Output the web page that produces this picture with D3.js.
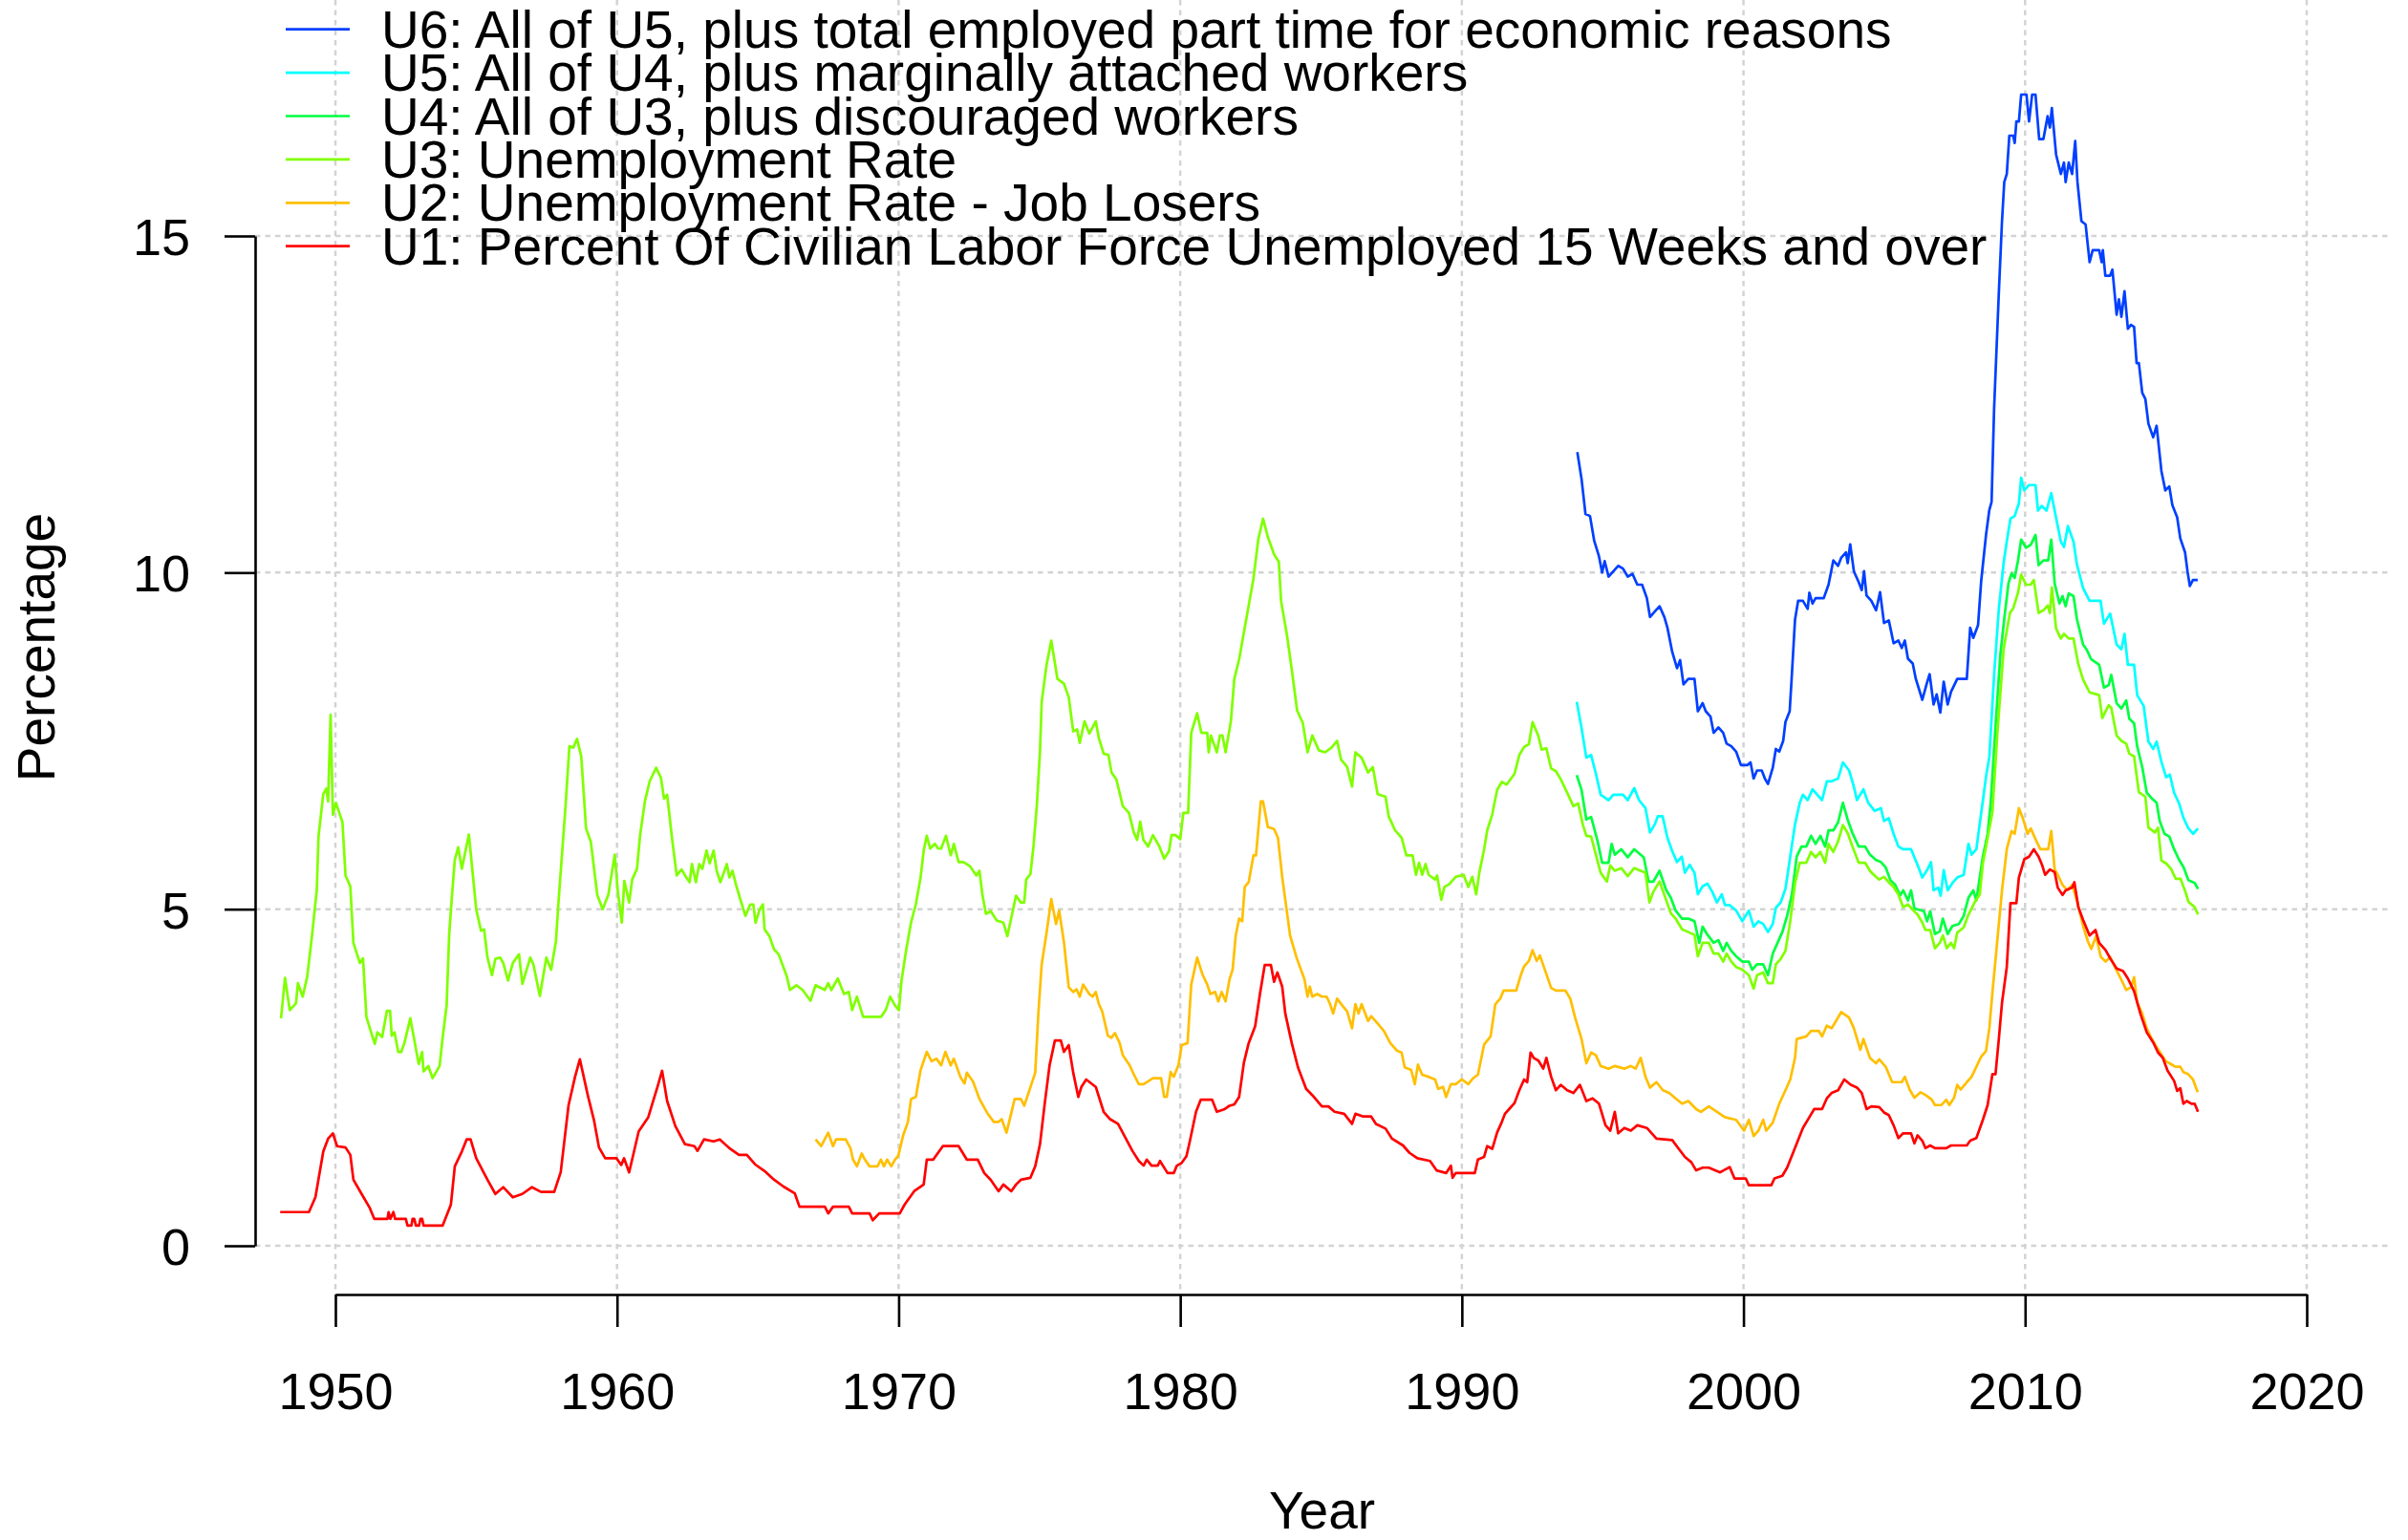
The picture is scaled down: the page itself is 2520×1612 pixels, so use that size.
<!DOCTYPE html>
<html>
<head>
<meta charset="utf-8">
<script src="https://cdn.jsdelivr.net/npm/d3@7"></script>
<style>
  body { margin: 0; background: #fff; }
  text { font-family: "Liberation Sans", Arial, sans-serif; fill: #000; }
</style>
</head>
<body>
<div id="chart"></div>
<script>
// x-axis ticks (years) and y-axis ticks (percent)
var yearTicks = [1950, 1960, 1970, 1980, 1990, 2000, 2010, 2020];
var pctTicks = [0, 5, 10, 15];

// legend labels, top to bottom
var labels = [
  "U6: All of U5, plus total employed part time for economic reasons",
  "U5: All of U4, plus marginally attached workers",
  "U4: All of U3, plus discouraged workers",
  "U3: Unemployment Rate",
  "U2: Unemployment Rate - Job Losers",
  "U1: Percent Of Civilian Labor Force Unemployed 15 Weeks and over"
];
var colors = ["#0040FF", "#00FFFF", "#00FF40", "#80FF00", "#FFBF00", "#FF0000"];

// series: [year, percent]
var u6 = [[1994.1,11.79],[1994.25,11.39],[1994.39,10.87],[1994.55,10.84],[1994.7,10.47],[1994.87,10.24],[1994.98,10.0],[1995.07,10.17],[1995.21,9.94],[1995.55,10.1],[1995.72,10.06],[1995.89,9.94],[1996.06,9.98],[1996.23,9.82],[1996.4,9.82],[1996.57,9.62],[1996.68,9.34],[1996.85,9.42],[1997.02,9.5],[1997.19,9.34],[1997.3,9.18],[1997.47,8.82],[1997.64,8.58],[1997.75,8.7],[1997.87,8.34],[1998.04,8.42],[1998.26,8.42],[1998.38,7.94],[1998.55,8.06],[1998.66,7.94],[1998.83,7.86],[1998.94,7.62],[1999.11,7.7],[1999.28,7.62],[1999.4,7.46],[1999.57,7.42],[1999.74,7.34],[1999.91,7.14],[2000.14,7.14],[2000.25,7.18],[2000.36,6.94],[2000.48,7.06],[2000.65,7.06],[2000.76,6.94],[2000.87,6.86],[2001.04,7.1],[2001.15,7.38],[2001.27,7.34],[2001.41,7.5],[2001.49,7.78],[2001.64,7.94],[2001.71,8.42],[2001.83,9.3],[2001.94,9.58],[2002.11,9.58],[2002.28,9.46],[2002.34,9.7],[2002.45,9.54],[2002.56,9.62],[2002.85,9.62],[2003.02,9.82],[2003.19,10.18],[2003.36,10.1],[2003.47,10.22],[2003.64,10.3],[2003.7,10.14],[2003.79,10.42],[2003.92,10.02],[2004.09,9.86],[2004.2,9.74],[2004.28,10.02],[2004.37,9.66],[2004.54,9.58],[2004.71,9.44],[2004.85,9.71],[2004.99,9.25],[2005.16,9.29],[2005.33,8.95],[2005.5,8.99],[2005.62,8.88],[2005.73,8.99],[2005.84,8.72],[2006.01,8.65],[2006.12,8.42],[2006.35,8.11],[2006.5,8.34],[2006.61,8.49],[2006.75,8.04],[2006.86,8.19],[2006.99,7.92],[2007.11,8.38],[2007.25,8.04],[2007.37,8.23],[2007.59,8.42],[2007.93,8.42],[2008.05,9.18],[2008.16,9.03],[2008.33,9.22],[2008.44,9.87],[2008.61,10.55],[2008.73,10.93],[2008.81,11.05],[2008.9,12.44],[2009.07,14.18],[2009.18,15.22],[2009.26,15.8],[2009.35,15.92],[2009.44,16.49],[2009.58,16.49],[2009.63,16.38],[2009.69,16.7],[2009.78,16.7],[2009.86,17.1],[2010.05,17.1],[2010.14,16.7],[2010.25,17.1],[2010.37,17.1],[2010.5,16.44],[2010.65,16.44],[2010.8,16.78],[2010.88,16.61],[2010.95,16.9],[2011.1,16.21],[2011.27,15.92],[2011.38,16.09],[2011.44,15.8],[2011.55,16.09],[2011.67,15.92],[2011.78,16.41],[2011.86,15.8],[2012.0,15.22],[2012.15,15.17],[2012.29,14.61],[2012.4,14.79],[2012.63,14.79],[2012.72,14.61],[2012.76,14.79],[2012.85,14.41],[2013.02,14.41],[2013.1,14.5],[2013.25,13.83],[2013.33,14.06],[2013.42,13.8],[2013.53,14.18],[2013.65,13.62],[2013.76,13.68],[2013.87,13.65],[2013.96,13.11],[2014.04,13.11],[2014.16,12.67],[2014.27,12.58],[2014.38,12.21],[2014.55,12.01],[2014.67,12.18],[2014.84,11.51],[2014.98,11.22],[2015.12,11.28],[2015.23,11.0],[2015.4,10.82],[2015.51,10.51],[2015.68,10.3],[2015.77,10.01],[2015.85,9.8],[2015.96,9.89],[2016.13,9.89]];

var u5 = [[1994.08,8.08],[1994.25,7.69],[1994.42,7.25],[1994.59,7.29],[1994.76,7.01],[1994.93,6.7],[1995.21,6.62],[1995.38,6.7],[1995.72,6.7],[1995.89,6.62],[1996.12,6.8],[1996.29,6.62],[1996.52,6.5],[1996.68,6.14],[1996.85,6.26],[1996.96,6.38],[1997.13,6.38],[1997.3,6.06],[1997.47,5.86],[1997.64,5.7],[1997.81,5.78],[1997.92,5.54],[1998.09,5.66],[1998.26,5.54],[1998.38,5.22],[1998.55,5.34],[1998.72,5.38],[1998.89,5.26],[1999.06,5.1],[1999.23,5.22],[1999.34,5.06],[1999.51,5.06],[1999.74,4.98],[1999.96,4.82],[2000.19,4.98],[2000.36,4.74],[2000.53,4.82],[2000.7,4.78],[2000.87,4.66],[2001.04,4.78],[2001.15,5.02],[2001.32,5.1],[2001.49,5.3],[2001.66,5.78],[2001.83,6.26],[2002.0,6.58],[2002.11,6.7],[2002.28,6.62],[2002.45,6.78],[2002.62,6.7],[2002.79,6.62],[2002.96,6.9],[2003.13,6.9],[2003.36,6.94],[2003.53,7.18],[2003.75,7.06],[2003.92,6.82],[2004.03,6.62],[2004.26,6.78],[2004.43,6.58],[2004.66,6.46],[2004.88,6.5],[2004.99,6.31],[2005.16,6.35],[2005.33,6.12],[2005.5,5.93],[2005.67,5.89],[2005.95,5.89],[2006.18,5.66],[2006.35,5.47],[2006.52,5.58],[2006.66,5.7],[2006.75,5.28],[2006.92,5.32],[2007.0,5.2],[2007.11,5.58],[2007.25,5.28],[2007.42,5.39],[2007.59,5.47],[2007.82,5.51],[2007.99,5.97],[2008.1,5.81],[2008.27,5.89],[2008.39,6.27],[2008.5,6.61],[2008.61,6.96],[2008.73,7.26],[2008.9,8.48],[2009.07,9.47],[2009.24,10.15],[2009.35,10.46],[2009.48,10.8],[2009.63,10.84],[2009.78,11.03],[2009.86,11.41],[2009.97,11.22],[2010.14,11.3],[2010.37,11.3],[2010.46,10.92],[2010.59,10.99],[2010.76,10.92],[2010.93,11.18],[2011.05,10.92],[2011.27,10.46],[2011.38,10.38],[2011.52,10.69],[2011.72,10.46],[2011.84,10.12],[2012.06,9.77],[2012.29,9.58],[2012.68,9.58],[2012.8,9.24],[2013.02,9.39],[2013.25,8.93],[2013.42,8.86],[2013.53,9.09],[2013.65,8.63],[2013.87,8.63],[2013.98,8.18],[2014.21,8.02],[2014.38,7.49],[2014.55,7.38],[2014.67,7.49],[2014.84,7.19],[2015.01,6.96],[2015.14,7.0],[2015.29,6.73],[2015.46,6.58],[2015.63,6.35],[2015.8,6.2],[2015.97,6.12],[2016.14,6.2]];

var u4 = [[1994.08,6.99],[1994.25,6.77],[1994.42,6.33],[1994.59,6.37],[1994.82,6.01],[1994.98,5.69],[1995.21,5.69],[1995.32,5.97],[1995.43,5.81],[1995.66,5.89],[1995.89,5.77],[1996.12,5.89],[1996.46,5.77],[1996.63,5.41],[1996.8,5.41],[1997.02,5.57],[1997.25,5.29],[1997.42,5.17],[1997.59,4.98],[1997.82,4.86],[1998.04,4.86],[1998.26,4.82],[1998.43,4.5],[1998.55,4.74],[1998.72,4.62],[1998.94,4.5],[1999.11,4.54],[1999.28,4.38],[1999.4,4.5],[1999.57,4.38],[1999.74,4.3],[1999.96,4.22],[2000.19,4.22],[2000.31,4.1],[2000.48,4.18],[2000.7,4.18],[2000.87,4.02],[2001.04,4.34],[2001.21,4.5],[2001.38,4.66],[2001.55,4.9],[2001.72,5.22],[2001.89,5.78],[2002.06,5.93],[2002.23,5.93],[2002.4,6.09],[2002.56,5.97],[2002.73,6.09],[2002.9,5.93],[2003.02,6.17],[2003.19,6.17],[2003.36,6.29],[2003.53,6.58],[2003.7,6.33],[2003.87,6.13],[2004.09,5.93],[2004.32,5.93],[2004.49,5.81],[2004.71,5.73],[2004.88,5.7],[2005.05,5.62],[2005.22,5.43],[2005.39,5.36],[2005.56,5.2],[2005.67,5.28],[2005.84,5.13],[2005.95,5.28],[2006.07,5.01],[2006.41,4.97],[2006.52,4.82],[2006.63,4.97],[2006.8,4.63],[2006.97,4.67],[2007.08,4.86],[2007.25,4.63],[2007.42,4.75],[2007.65,4.78],[2007.82,4.9],[2007.99,5.17],[2008.16,5.28],[2008.27,5.13],[2008.39,5.47],[2008.5,5.78],[2008.67,6.12],[2008.78,6.58],[2008.95,7.72],[2009.12,8.78],[2009.29,9.42],[2009.41,9.84],[2009.52,9.99],[2009.63,9.92],[2009.75,10.18],[2009.86,10.49],[2010.03,10.37],[2010.2,10.41],[2010.37,10.56],[2010.48,10.11],[2010.65,10.18],[2010.82,10.18],[2010.93,10.49],[2011.05,9.84],[2011.22,9.54],[2011.33,9.65],[2011.44,9.5],[2011.55,9.69],[2011.72,9.65],[2011.84,9.31],[2012.06,8.93],[2012.18,8.86],[2012.35,8.71],[2012.63,8.63],[2012.8,8.29],[2012.97,8.33],[2013.06,8.48],[2013.25,8.06],[2013.42,7.98],[2013.59,8.1],[2013.7,7.83],[2013.87,7.76],[2013.98,7.42],[2014.16,7.11],[2014.32,6.73],[2014.49,6.65],[2014.67,6.58],[2014.78,6.31],[2014.95,6.12],[2015.12,6.08],[2015.29,5.89],[2015.46,5.74],[2015.63,5.62],[2015.8,5.43],[2016.02,5.39],[2016.14,5.3]];

var u3 = [[1948.07,3.38],[1948.21,3.98],[1948.38,3.5],[1948.6,3.6],[1948.67,3.9],[1948.84,3.7],[1949.0,4.0],[1949.17,4.61],[1949.34,5.29],[1949.4,6.08],[1949.57,6.71],[1949.68,6.79],[1949.74,6.6],[1949.83,7.89],[1949.91,6.4],[1950.02,6.58],[1950.25,6.29],[1950.36,5.5],[1950.53,5.34],[1950.64,4.5],[1950.87,4.2],[1950.98,4.27],[1951.1,3.4],[1951.32,3.1],[1951.4,3.0],[1951.49,3.17],[1951.66,3.1],[1951.83,3.49],[1951.94,3.49],[1952.0,3.12],[1952.1,3.17],[1952.23,2.88],[1952.34,2.88],[1952.45,3.01],[1952.66,3.38],[1952.8,3.06],[1952.96,2.7],[1953.08,2.88],[1953.13,2.59],[1953.3,2.67],[1953.45,2.49],[1953.7,2.67],[1953.81,3.1],[1953.95,3.57],[1954.04,4.62],[1954.13,5.15],[1954.24,5.73],[1954.36,5.92],[1954.49,5.6],[1954.74,6.11],[1954.89,5.47],[1955.0,5.0],[1955.17,4.68],[1955.28,4.7],[1955.4,4.28],[1955.56,4.02],[1955.68,4.26],[1955.85,4.28],[1955.96,4.2],[1956.13,3.94],[1956.3,4.2],[1956.52,4.33],[1956.64,3.89],[1956.92,4.28],[1957.03,4.18],[1957.26,3.71],[1957.49,4.28],[1957.66,4.1],[1957.83,4.52],[1957.94,5.21],[1958.17,6.52],[1958.31,7.42],[1958.45,7.4],[1958.58,7.53],[1958.73,7.27],[1958.9,6.2],[1959.07,6.0],[1959.3,5.21],[1959.49,5.0],[1959.69,5.21],[1959.92,5.81],[1960.03,5.26],[1960.17,4.8],[1960.26,5.42],[1960.43,5.1],[1960.54,5.44],[1960.71,5.6],[1960.82,6.1],[1960.99,6.6],[1961.16,6.9],[1961.39,7.1],[1961.56,6.95],[1961.67,6.64],[1961.78,6.7],[1961.96,6.03],[1962.12,5.5],[1962.29,5.59],[1962.46,5.47],[1962.58,5.4],[1962.66,5.67],[1962.8,5.4],[1962.92,5.67],[1963.03,5.6],[1963.18,5.87],[1963.29,5.68],[1963.43,5.87],[1963.54,5.57],[1963.67,5.4],[1963.79,5.54],[1963.9,5.67],[1963.99,5.47],[1964.1,5.57],[1964.22,5.37],[1964.39,5.13],[1964.56,4.9],[1964.73,5.07],[1964.84,5.07],[1964.92,4.8],[1965.07,5.0],[1965.18,5.07],[1965.24,4.7],[1965.41,4.6],[1965.58,4.4],[1965.74,4.33],[1966.03,4.0],[1966.14,3.8],[1966.37,3.87],[1966.59,3.8],[1966.87,3.64],[1967.05,3.87],[1967.38,3.8],[1967.5,3.9],[1967.61,3.8],[1967.84,3.97],[1968.06,3.74],[1968.23,3.77],[1968.35,3.5],[1968.52,3.7],[1968.74,3.4],[1969.37,3.4],[1969.54,3.5],[1969.7,3.7],[1969.87,3.57],[1970.01,3.5],[1970.1,3.93],[1970.27,4.4],[1970.44,4.8],[1970.61,5.07],[1970.78,5.47],[1970.89,5.87],[1971.0,6.09],[1971.12,5.9],[1971.29,5.97],[1971.4,5.9],[1971.51,5.9],[1971.68,6.09],[1971.85,5.8],[1971.96,5.97],[1972.13,5.7],[1972.3,5.7],[1972.53,5.64],[1972.76,5.5],[1972.87,5.57],[1972.98,5.2],[1973.1,4.93],[1973.27,4.97],[1973.49,4.83],[1973.72,4.8],[1973.86,4.6],[1974.0,4.87],[1974.17,5.2],[1974.34,5.1],[1974.46,5.1],[1974.53,5.44],[1974.68,5.52],[1974.79,5.94],[1974.91,6.55],[1975.02,7.35],[1975.08,8.08],[1975.25,8.62],[1975.42,8.99],[1975.64,8.42],[1975.87,8.35],[1976.04,8.15],[1976.2,7.64],[1976.34,7.67],[1976.43,7.47],[1976.6,7.79],[1976.77,7.61],[1977.0,7.79],[1977.11,7.54],[1977.28,7.31],[1977.45,7.29],[1977.56,7.03],[1977.73,6.93],[1977.96,6.53],[1978.18,6.43],[1978.35,6.14],[1978.47,6.03],[1978.58,6.3],[1978.69,6.03],[1978.86,5.93],[1979.03,6.1],[1979.26,5.93],[1979.43,5.75],[1979.6,5.86],[1979.69,6.1],[1979.83,6.1],[1980.0,6.04],[1980.11,6.43],[1980.28,6.43],[1980.39,7.62],[1980.6,7.91],[1980.75,7.62],[1980.96,7.62],[1981.01,7.33],[1981.09,7.58],[1981.3,7.33],[1981.41,7.58],[1981.5,7.58],[1981.61,7.33],[1981.8,7.8],[1981.92,8.42],[1982.09,8.71],[1982.26,9.11],[1982.43,9.51],[1982.6,9.91],[1982.77,10.49],[1982.94,10.8],[1983.11,10.53],[1983.33,10.27],[1983.5,10.16],[1983.58,9.58],[1983.79,9.07],[1983.96,8.56],[1984.15,7.95],[1984.35,7.77],[1984.52,7.33],[1984.69,7.58],[1984.92,7.36],[1985.14,7.33],[1985.37,7.4],[1985.57,7.5],[1985.71,7.22],[1985.93,7.11],[1986.1,6.82],[1986.22,7.33],[1986.44,7.25],[1986.67,7.03],[1986.84,7.11],[1987.01,6.71],[1987.29,6.67],[1987.4,6.38],[1987.63,6.17],[1987.86,6.06],[1988.03,5.8],[1988.25,5.8],[1988.37,5.51],[1988.48,5.69],[1988.59,5.51],[1988.71,5.67],[1988.82,5.51],[1989.05,5.44],[1989.12,5.5],[1989.27,5.14],[1989.38,5.33],[1989.55,5.37],[1989.78,5.48],[1990.06,5.51],[1990.23,5.33],[1990.37,5.48],[1990.51,5.22],[1990.62,5.54],[1990.79,5.89],[1990.9,6.17],[1991.08,6.41],[1991.25,6.77],[1991.42,6.89],[1991.59,6.85],[1991.87,7.01],[1992.04,7.29],[1992.21,7.41],[1992.38,7.45],[1992.51,7.78],[1992.72,7.57],[1992.83,7.37],[1993.0,7.39],[1993.17,7.09],[1993.34,7.05],[1993.51,6.93],[1993.74,6.73],[1993.96,6.53],[1994.13,6.57],[1994.3,6.25],[1994.42,6.09],[1994.59,6.08],[1994.76,5.81],[1994.93,5.54],[1995.15,5.41],[1995.27,5.65],[1995.43,5.57],[1995.66,5.61],[1995.89,5.49],[1996.12,5.61],[1996.35,5.57],[1996.52,5.54],[1996.66,5.1],[1996.8,5.26],[1997.02,5.41],[1997.25,5.14],[1997.42,4.94],[1997.59,4.86],[1997.82,4.7],[1998.04,4.66],[1998.26,4.62],[1998.38,4.3],[1998.55,4.5],[1998.77,4.5],[1998.94,4.34],[1999.11,4.34],[1999.28,4.22],[1999.4,4.34],[1999.57,4.22],[1999.74,4.14],[1999.96,4.1],[2000.19,4.02],[2000.36,3.82],[2000.48,4.02],[2000.7,4.06],[2000.87,3.9],[2001.04,3.9],[2001.15,4.18],[2001.32,4.26],[2001.49,4.38],[2001.66,4.82],[2001.83,5.38],[2002.0,5.69],[2002.23,5.69],[2002.4,5.85],[2002.56,5.77],[2002.73,5.85],[2002.9,5.69],[2003.02,5.97],[2003.19,5.85],[2003.36,6.01],[2003.53,6.25],[2003.7,6.13],[2003.87,5.93],[2004.09,5.69],[2004.32,5.69],[2004.49,5.57],[2004.6,5.52],[2004.82,5.44],[2004.99,5.48],[2005.16,5.4],[2005.33,5.33],[2005.5,5.22],[2005.67,5.03],[2005.84,5.07],[2006.01,4.99],[2006.18,4.92],[2006.35,4.8],[2006.46,4.69],[2006.63,4.69],[2006.8,4.42],[2006.97,4.5],[2007.08,4.61],[2007.22,4.42],[2007.37,4.5],[2007.48,4.42],[2007.59,4.65],[2007.82,4.73],[2007.99,4.92],[2008.22,5.11],[2008.39,5.22],[2008.5,5.68],[2008.67,6.06],[2008.84,6.44],[2009.01,7.58],[2009.24,8.87],[2009.46,9.4],[2009.58,9.47],[2009.75,9.7],[2009.86,9.97],[2010.03,9.82],[2010.2,9.82],[2010.31,9.89],[2010.48,9.4],[2010.65,9.44],[2010.8,9.51],[2010.88,9.4],[2010.95,9.78],[2011.1,9.17],[2011.27,9.02],[2011.38,9.09],[2011.55,9.02],[2011.72,9.02],[2011.89,8.64],[2012.06,8.41],[2012.29,8.22],[2012.63,8.18],[2012.74,7.84],[2012.97,8.03],[2013.06,7.99],[2013.25,7.58],[2013.42,7.5],[2013.59,7.46],[2013.7,7.31],[2013.87,7.27],[2014.04,6.74],[2014.27,6.67],[2014.38,6.21],[2014.61,6.14],[2014.72,6.21],[2014.84,5.72],[2015.01,5.68],[2015.18,5.6],[2015.35,5.45],[2015.52,5.45],[2015.69,5.26],[2015.8,5.11],[2016.02,5.03],[2016.14,4.92]];

var u2 = [[1967.05,1.58],[1967.25,1.48],[1967.5,1.68],[1967.67,1.48],[1967.78,1.58],[1968.12,1.58],[1968.29,1.45],[1968.38,1.28],[1968.52,1.18],[1968.69,1.37],[1968.8,1.28],[1968.97,1.18],[1969.25,1.18],[1969.37,1.28],[1969.48,1.18],[1969.59,1.28],[1969.74,1.18],[1969.87,1.28],[1969.99,1.34],[1970.16,1.64],[1970.33,1.84],[1970.44,2.18],[1970.61,2.21],[1970.78,2.61],[1971.0,2.88],[1971.17,2.74],[1971.34,2.78],[1971.51,2.68],[1971.66,2.88],[1971.85,2.68],[1971.96,2.78],[1972.19,2.51],[1972.34,2.41],[1972.42,2.57],[1972.64,2.44],[1972.87,2.18],[1973.15,1.97],[1973.38,1.84],[1973.55,1.84],[1973.66,1.88],[1973.83,1.68],[1974.0,1.97],[1974.12,2.18],[1974.34,2.18],[1974.46,2.08],[1974.62,2.28],[1974.85,2.57],[1974.96,3.44],[1975.08,4.18],[1975.25,4.64],[1975.42,5.15],[1975.59,4.78],[1975.7,4.98],[1975.87,4.51],[1976.04,3.84],[1976.2,3.77],[1976.32,3.81],[1976.43,3.7],[1976.55,3.88],[1976.77,3.74],[1976.89,3.7],[1977.0,3.77],[1977.11,3.59],[1977.23,3.48],[1977.43,3.12],[1977.56,3.09],[1977.68,3.16],[1977.85,3.01],[1977.96,2.83],[1978.19,2.69],[1978.36,2.54],[1978.53,2.4],[1978.7,2.4],[1979.03,2.49],[1979.32,2.49],[1979.43,2.21],[1979.52,2.21],[1979.66,2.58],[1979.77,2.51],[1979.94,2.69],[1980.05,2.98],[1980.26,3.01],[1980.39,3.88],[1980.6,4.28],[1980.79,4.03],[1980.96,3.88],[1981.07,3.74],[1981.24,3.77],[1981.35,3.63],[1981.47,3.77],[1981.61,3.63],[1981.75,3.96],[1981.86,4.1],[1981.97,4.61],[1982.09,4.86],[1982.2,4.82],[1982.29,5.33],[1982.43,5.4],[1982.6,5.8],[1982.69,5.8],[1982.86,6.6],[1982.94,6.6],[1983.11,6.22],[1983.33,6.19],[1983.47,6.06],[1983.62,5.48],[1983.9,4.61],[1984.13,4.28],[1984.41,3.96],[1984.52,3.7],[1984.6,3.85],[1984.69,3.7],[1984.86,3.74],[1985.03,3.7],[1985.2,3.7],[1985.32,3.59],[1985.43,3.45],[1985.57,3.67],[1985.77,3.56],[1985.93,3.48],[1986.1,3.23],[1986.22,3.59],[1986.33,3.45],[1986.44,3.59],[1986.67,3.34],[1986.78,3.41],[1987.01,3.3],[1987.23,3.19],[1987.46,3.01],[1987.69,2.9],[1987.86,2.87],[1987.97,2.65],[1988.2,2.61],[1988.33,2.4],[1988.44,2.69],[1988.59,2.54],[1988.82,2.51],[1989.05,2.47],[1989.16,2.33],[1989.33,2.36],[1989.44,2.21],[1989.61,2.4],[1989.78,2.4],[1990.0,2.47],[1990.23,2.4],[1990.4,2.49],[1990.57,2.54],[1990.79,2.99],[1991.02,3.11],[1991.19,3.59],[1991.36,3.67],[1991.48,3.79],[1991.93,3.79],[1992.1,4.03],[1992.21,4.15],[1992.38,4.23],[1992.51,4.39],[1992.66,4.23],[1992.77,4.31],[1992.94,4.11],[1993.17,3.83],[1993.34,3.79],[1993.68,3.79],[1993.85,3.67],[1994.02,3.39],[1994.25,3.07],[1994.42,2.71],[1994.59,2.87],[1994.76,2.83],[1994.93,2.67],[1995.21,2.63],[1995.43,2.67],[1995.77,2.63],[1996.0,2.67],[1996.17,2.63],[1996.35,2.79],[1996.52,2.51],[1996.68,2.35],[1996.91,2.43],[1997.14,2.31],[1997.36,2.27],[1997.59,2.19],[1997.82,2.11],[1998.04,2.15],[1998.32,2.03],[1998.49,1.99],[1998.77,2.07],[1999.06,1.99],[1999.34,1.91],[1999.74,1.87],[2000.02,1.71],[2000.19,1.87],[2000.36,1.63],[2000.53,1.71],[2000.7,1.87],[2000.81,1.71],[2001.04,1.83],[2001.27,2.11],[2001.49,2.31],[2001.66,2.47],[2001.83,2.79],[2001.89,3.07],[2002.23,3.11],[2002.4,3.19],[2002.68,3.19],[2002.79,3.11],[2002.96,3.27],[2003.13,3.23],[2003.3,3.35],[2003.47,3.47],[2003.75,3.39],[2003.92,3.23],[2004.15,2.91],[2004.26,3.07],[2004.49,2.79],[2004.71,2.71],[2004.82,2.77],[2005.05,2.66],[2005.28,2.43],[2005.62,2.43],[2005.73,2.51],[2005.9,2.32],[2006.07,2.2],[2006.29,2.28],[2006.46,2.24],[2006.69,2.17],[2006.8,2.09],[2007.03,2.09],[2007.2,2.17],[2007.31,2.09],[2007.48,2.2],[2007.59,2.39],[2007.71,2.32],[2007.93,2.43],[2008.1,2.51],[2008.27,2.66],[2008.44,2.81],[2008.61,2.89],[2008.73,3.23],[2008.84,3.76],[2009.01,4.52],[2009.18,5.28],[2009.35,5.89],[2009.52,6.16],[2009.63,6.12],[2009.78,6.5],[2009.92,6.35],[2010.09,6.12],[2010.2,6.2],[2010.37,6.04],[2010.54,5.89],[2010.82,5.89],[2010.93,6.16],[2011.05,5.59],[2011.16,5.51],[2011.33,5.36],[2011.5,5.28],[2011.67,5.36],[2011.84,5.13],[2012.06,4.75],[2012.23,4.52],[2012.35,4.41],[2012.52,4.6],[2012.69,4.29],[2012.86,4.22],[2013.02,4.29],[2013.19,4.14],[2013.42,3.95],[2013.59,3.8],[2013.76,3.84],[2013.87,3.99],[2013.98,3.61],[2014.15,3.46],[2014.32,3.23],[2014.49,3.08],[2014.66,2.96],[2014.83,2.85],[2015.0,2.74],[2015.17,2.7],[2015.34,2.66],[2015.51,2.66],[2015.62,2.58],[2015.79,2.55],[2015.96,2.47],[2016.13,2.28]];

var u1 = [[1948.04,0.5],[1949.06,0.5],[1949.29,0.72],[1949.57,1.4],[1949.74,1.59],[1949.91,1.67],[1950.06,1.48],[1950.36,1.46],[1950.53,1.35],[1950.64,0.98],[1950.93,0.77],[1951.21,0.57],[1951.38,0.4],[1951.85,0.4],[1951.89,0.5],[1951.95,0.4],[1952.06,0.5],[1952.12,0.4],[1952.5,0.4],[1952.56,0.3],[1952.7,0.3],[1952.74,0.4],[1952.8,0.4],[1952.86,0.3],[1952.97,0.3],[1953.02,0.4],[1953.08,0.4],[1953.13,0.3],[1953.81,0.3],[1954.1,0.61],[1954.24,1.18],[1954.49,1.4],[1954.66,1.58],[1954.8,1.58],[1955.0,1.3],[1955.4,0.98],[1955.68,0.77],[1955.96,0.87],[1956.3,0.72],[1956.64,0.77],[1956.98,0.87],[1957.3,0.8],[1957.77,0.8],[1958.0,1.09],[1958.28,2.09],[1958.51,2.51],[1958.68,2.77],[1958.96,2.24],[1959.19,1.85],[1959.36,1.46],[1959.58,1.3],[1959.98,1.3],[1960.15,1.2],[1960.25,1.3],[1960.43,1.09],[1960.77,1.7],[1961.11,1.91],[1961.45,2.38],[1961.6,2.6],[1961.78,2.15],[1962.07,1.78],[1962.41,1.51],[1962.75,1.48],[1962.86,1.41],[1963.09,1.58],[1963.43,1.55],[1963.65,1.58],[1963.99,1.45],[1964.33,1.35],[1964.61,1.35],[1964.9,1.21],[1965.24,1.11],[1965.58,0.98],[1965.91,0.88],[1966.31,0.78],[1966.48,0.58],[1967.38,0.58],[1967.5,0.48],[1967.67,0.58],[1968.23,0.58],[1968.35,0.48],[1968.97,0.48],[1969.08,0.38],[1969.31,0.48],[1970.04,0.48],[1970.21,0.61],[1970.55,0.81],[1970.89,0.91],[1971.0,1.28],[1971.23,1.28],[1971.4,1.38],[1971.57,1.48],[1972.13,1.48],[1972.42,1.28],[1972.81,1.28],[1973.04,1.08],[1973.27,0.98],[1973.55,0.81],[1973.72,0.91],[1974.0,0.81],[1974.17,0.91],[1974.34,0.98],[1974.68,1.01],[1974.85,1.18],[1975.02,1.51],[1975.19,2.12],[1975.36,2.68],[1975.55,3.05],[1975.76,3.05],[1975.87,2.88],[1976.04,2.98],[1976.2,2.57],[1976.38,2.21],[1976.49,2.36],[1976.66,2.47],[1977.0,2.36],[1977.28,1.99],[1977.51,1.88],[1977.79,1.81],[1978.07,1.59],[1978.3,1.41],[1978.53,1.26],[1978.7,1.19],[1978.81,1.28],[1978.98,1.19],[1979.2,1.19],[1979.28,1.26],[1979.55,1.08],[1979.77,1.08],[1979.88,1.19],[1980.05,1.23],[1980.22,1.33],[1980.34,1.55],[1980.56,1.99],[1980.73,2.17],[1980.9,2.17],[1981.13,2.17],[1981.3,1.99],[1981.58,2.03],[1981.75,2.08],[1981.92,2.1],[1982.09,2.21],[1982.26,2.72],[1982.43,3.01],[1982.66,3.26],[1982.83,3.74],[1983.0,4.17],[1983.22,4.17],[1983.33,3.92],[1983.45,4.06],[1983.62,3.85],[1983.73,3.45],[1983.96,3.01],[1984.18,2.65],[1984.47,2.33],[1984.75,2.21],[1985.03,2.07],[1985.26,2.07],[1985.48,1.99],[1985.82,1.96],[1986.1,1.81],[1986.22,1.96],[1986.5,1.92],[1986.78,1.92],[1986.95,1.81],[1987.29,1.74],[1987.52,1.59],[1987.91,1.49],[1988.14,1.38],[1988.42,1.3],[1988.87,1.26],[1989.1,1.12],[1989.44,1.08],[1989.61,1.19],[1989.67,1.01],[1989.78,1.08],[1990.46,1.08],[1990.57,1.28],[1990.79,1.32],[1990.9,1.48],[1991.08,1.44],[1991.25,1.68],[1991.42,1.84],[1991.53,1.96],[1991.7,2.04],[1991.87,2.12],[1992.04,2.31],[1992.21,2.47],[1992.32,2.43],[1992.44,2.87],[1992.55,2.79],[1992.72,2.75],[1992.89,2.63],[1993.0,2.79],[1993.17,2.51],[1993.34,2.31],[1993.51,2.39],[1993.74,2.31],[1993.96,2.27],[1994.19,2.39],[1994.42,2.15],[1994.64,2.19],[1994.87,2.11],[1995.1,1.79],[1995.27,1.71],[1995.43,1.99],[1995.55,1.67],[1995.77,1.75],[1996.0,1.71],[1996.23,1.79],[1996.57,1.75],[1996.91,1.59],[1997.47,1.57],[1997.7,1.44],[1997.92,1.32],[1998.15,1.24],[1998.32,1.12],[1998.55,1.16],[1998.77,1.16],[1999.17,1.09],[1999.51,1.17],[1999.68,1.0],[2000.08,1.0],[2000.19,0.9],[2000.99,0.9],[2001.1,1.0],[2001.38,1.04],[2001.55,1.16],[2001.78,1.4],[2002.11,1.75],[2002.34,1.91],[2002.51,2.03],[2002.79,2.03],[2002.96,2.19],[2003.13,2.27],[2003.36,2.31],[2003.58,2.47],[2003.81,2.39],[2004.03,2.35],[2004.2,2.27],[2004.37,2.03],[2004.54,2.07],[2004.82,2.06],[2004.99,1.98],[2005.16,1.94],[2005.33,1.79],[2005.5,1.6],[2005.67,1.67],[2005.95,1.67],[2006.07,1.52],[2006.18,1.64],[2006.35,1.56],[2006.46,1.45],[2006.63,1.49],[2006.8,1.45],[2007.2,1.45],[2007.37,1.49],[2007.93,1.49],[2008.05,1.56],[2008.27,1.6],[2008.5,1.87],[2008.67,2.09],[2008.84,2.55],[2008.95,2.55],[2009.07,3.08],[2009.18,3.61],[2009.35,4.14],[2009.48,5.09],[2009.69,5.09],[2009.78,5.47],[2009.97,5.74],[2010.14,5.78],[2010.31,5.89],[2010.48,5.78],[2010.6,5.66],[2010.71,5.51],[2010.88,5.59],[2011.05,5.55],[2011.16,5.32],[2011.33,5.21],[2011.44,5.28],[2011.67,5.32],[2011.75,5.4],[2011.89,5.03],[2012.06,4.84],[2012.29,4.61],[2012.5,4.69],[2012.63,4.5],[2012.86,4.39],[2013.02,4.27],[2013.25,4.12],[2013.48,4.08],[2013.65,3.97],[2013.87,3.78],[2014.1,3.44],[2014.32,3.17],[2014.55,3.02],[2014.72,2.87],[2014.89,2.79],[2015.06,2.6],[2015.29,2.45],[2015.4,2.3],[2015.51,2.34],[2015.62,2.11],[2015.74,2.15],[2015.91,2.11],[2016.02,2.11],[2016.14,1.99]];

var series = [u6, u5, u4, u3, u2, u1];

var width = 2520, height = 1612;
// plot region (R style: axes sit on its left and bottom edges)
var plotLeft = 267, plotRight = 2500, plotTop = 0, plotBottom = 1355;

var svg = d3.select('#chart')
  .append('svg')
    .attr('width', width)
    .attr('height', height)
    .style('background', '#fff');

var x = d3.scaleLinear().domain([1950, 2020]).range([351, 2414]);
var y = d3.scaleLinear().domain([0, 15]).range([1304, 247]);

// dotted grid
svg.selectAll('.vgrid')
  .data(yearTicks)
  .enter()
  .append('line')
  .attr('class', 'vgrid')
  .attr('x1', d => x(d)).attr('x2', d => x(d))
  .attr('y1', plotTop).attr('y2', plotBottom)
  .attr('stroke', '#D3D3D3')
  .attr('stroke-width', 2.5)
  .attr('stroke-dasharray', '5.5,5');

svg.selectAll('.hgrid')
  .data(pctTicks)
  .enter()
  .append('line')
  .attr('class', 'hgrid')
  .attr('x1', plotLeft).attr('x2', plotRight)
  .attr('y1', d => y(d)).attr('y2', d => y(d))
  .attr('stroke', '#D3D3D3')
  .attr('stroke-width', 2.5)
  .attr('stroke-dasharray', '5.5,5');

// axes
var yAxis = svg.append('g')
  .attr('transform', 'translate(' + plotLeft + ',0)')
  .call(d3.axisLeft(y).tickValues(pctTicks).tickSize(32).tickSizeOuter(0).tickPadding(36));

var xAxis = svg.append('g')
  .attr('transform', 'translate(0,' + plotBottom + ')')
  .call(d3.axisBottom(x).tickValues(yearTicks).tickFormat(d3.format('d'))
        .tickSize(34).tickSizeOuter(0).tickPadding(48));

[yAxis, xAxis].forEach(function (g) {
  g.selectAll('path, line').attr('stroke', '#000').attr('stroke-width', 2.6);
  g.selectAll('text')
    .attr('font-family', '"Liberation Sans", Arial, sans-serif')
    .attr('font-size', 54)
    .attr('fill', '#000');
});
yAxis.selectAll('text').attr('dy', '0.36em');

// lines
var line = d3.line()
  .x(d => x(d[0]))
  .y(d => y(d[1]));

svg.selectAll('.series')
  .data(series)
  .enter()
  .append('path')
  .attr('class', 'series')
  .attr('d', line)
  .attr('fill', 'none')
  .attr('stroke', (d, i) => colors[i])
  .attr('stroke-width', 2.7)
  .attr('stroke-linejoin', 'round');

// legend
var legend = svg.append('g');
labels.forEach(function (t, i) {
  var ly = 30.7 + i * 45.4;
  legend.append('line')
    .attr('x1', 299).attr('x2', 366)
    .attr('y1', ly).attr('y2', ly)
    .attr('stroke', colors[i])
    .attr('stroke-width', 2.7);
  legend.append('text')
    .attr('x', 399).attr('y', ly + 19)
    .attr('font-size', 55)
    .text(t);
});

// axis titles
svg.append('text')
  .attr('x', (plotLeft + plotRight) / 2).attr('y', 1600)
  .attr('text-anchor', 'middle')
  .attr('font-size', 55)
  .text('Year');
svg.append('text')
  .attr('transform', 'translate(57,' + (plotTop + plotBottom) / 2 + ') rotate(-90)')
  .attr('text-anchor', 'middle')
  .attr('font-size', 55)
  .text('Percentage');
</script>
</body>
</html>
